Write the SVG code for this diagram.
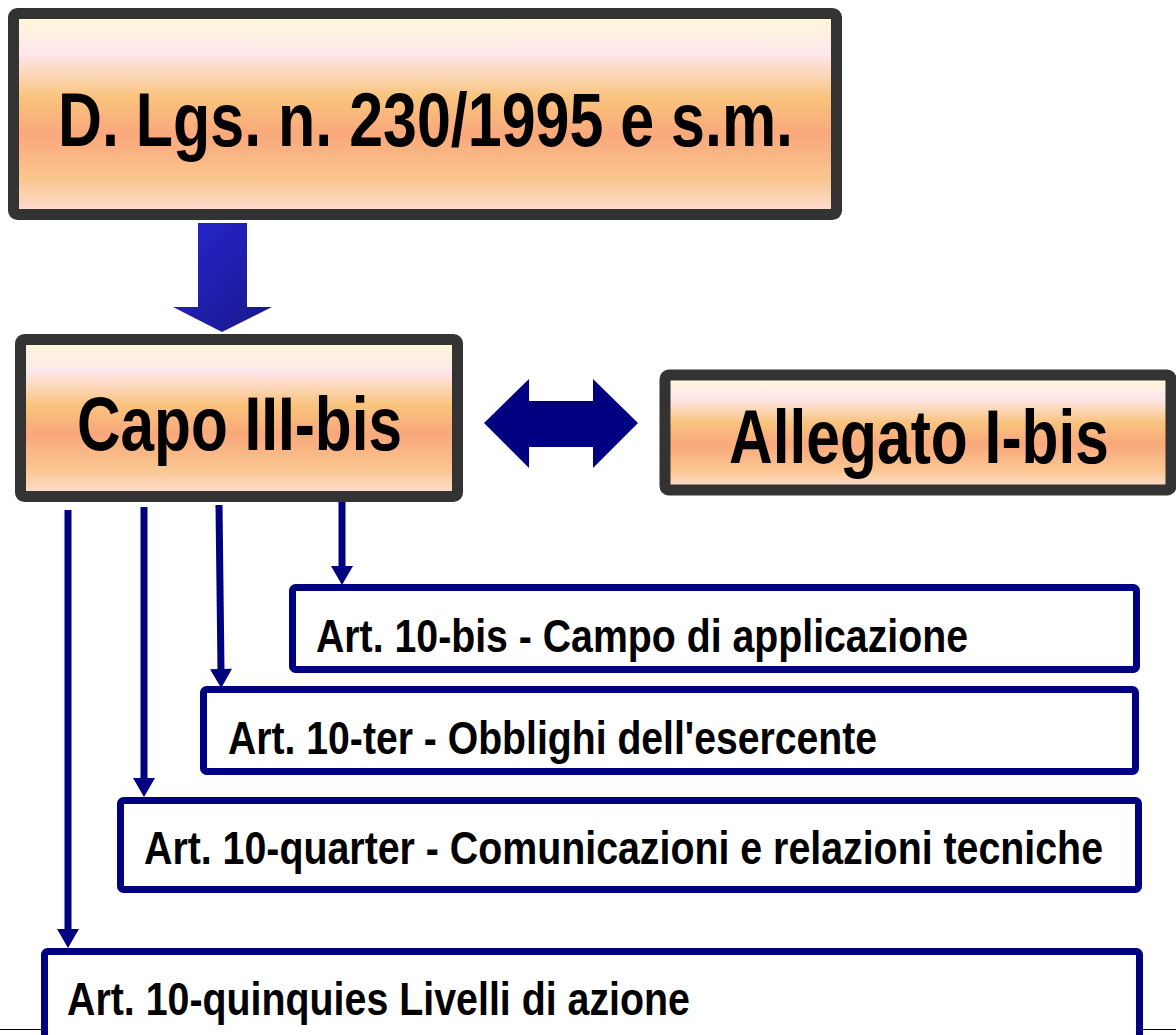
<svg xmlns="http://www.w3.org/2000/svg" width="1176" height="1035" viewBox="0 0 1176 1035">
<style>
.big{fill:url(#warm);stroke:#333333;stroke-width:11}
.art{fill:#ffffff;stroke:#000080;stroke-width:7}
.t{font-family:"Liberation Sans Narrow","Liberation Sans",Arial,sans-serif;font-weight:bold;fill:#000000}
.t1{font-size:76px}
.t2{font-size:47px}
.con{stroke:#000080;stroke-width:7;fill:none}
</style>
<defs>
<linearGradient id="warm" x1="0" y1="0" x2="0" y2="1">
<stop offset="0" stop-color="#FFF9D6"/>
<stop offset="0.2" stop-color="#FDE7EC"/>
<stop offset="0.42" stop-color="#F9C37C"/>
<stop offset="0.6" stop-color="#F9A87C"/>
<stop offset="0.82" stop-color="#FAC58E"/>
<stop offset="1" stop-color="#FCE0D6"/>
</linearGradient>
<linearGradient id="blue" x1="0" y1="0" x2="1" y2="1">
<stop offset="0" stop-color="#2626D2"/>
<stop offset="1" stop-color="#18188A"/>
</linearGradient>
<marker id="ah" markerUnits="userSpaceOnUse" markerWidth="24" markerHeight="24" viewBox="0 -12 20 24" refX="1" refY="0" orient="auto">
<path d="M0,-11 L19,0 L0,11 Z" fill="#000080"/>
</marker>
</defs>
<line x1="0" y1="1029.5" x2="1176" y2="1029.5" stroke="#000000" stroke-width="1"/>
<g id="node-dlgs">
<rect class="big" x="13.5" y="13.5" width="823" height="201" rx="4"/>
<text class="t t1" x="58" y="146" textLength="735" lengthAdjust="spacingAndGlyphs">D. Lgs. n. 230/1995 e s.m.</text>
</g>
<g id="node-capo">
<rect class="big" x="20.5" y="339.5" width="437" height="157" rx="4"/>
<text class="t t1" x="77" y="450" textLength="325" lengthAdjust="spacingAndGlyphs">Capo III-bis</text>
</g>
<g id="node-allegato">
<rect class="big" x="665" y="375" width="506" height="115" rx="4"/>
<text class="t t1" x="729" y="463" textLength="380" lengthAdjust="spacingAndGlyphs">Allegato I-bis</text>
</g>
<g id="node-art10bis">
<rect class="art" x="292.5" y="587.5" width="844" height="82" rx="3"/>
<text class="t t2" x="316" y="652" textLength="652" lengthAdjust="spacingAndGlyphs">Art. 10-bis - Campo di applicazione</text>
</g>
<g id="node-art10ter">
<rect class="art" x="203.5" y="689.5" width="932" height="82" rx="3"/>
<text class="t t2" x="228" y="754" textLength="649" lengthAdjust="spacingAndGlyphs">Art. 10-ter - Obblighi dell'esercente</text>
</g>
<g id="node-art10quarter">
<rect class="art" x="120.5" y="800.5" width="1018" height="89" rx="3"/>
<text class="t t2" x="144" y="864" textLength="959" lengthAdjust="spacingAndGlyphs">Art. 10-quarter - Comunicazioni e relazioni tecniche</text>
</g>
<g id="node-art10quinquies">
<rect class="art" x="44.5" y="951.5" width="1095" height="100" rx="3"/>
<text class="t t2" x="67" y="1015" textLength="623" lengthAdjust="spacingAndGlyphs">Art. 10-quinquies Livelli di azione</text>
</g>
<g id="connectors">
<polygon points="198,223 247,223 247,307 272,307 222,332 173,307 198,307" fill="url(#blue)"/>
<polygon points="484,423 529,379 529,401 593,401 593,379 638,423 593,468 593,447 529,447 529,468" fill="#000080"/>
<line class="con" x1="342" y1="502" x2="342" y2="567" marker-end="url(#ah)"/>
<line class="con" x1="219" y1="505" x2="221" y2="670" marker-end="url(#ah)"/>
<line class="con" x1="144" y1="507" x2="144" y2="779" marker-end="url(#ah)"/>
<line class="con" x1="68" y1="510" x2="68" y2="930" marker-end="url(#ah)"/>
</g>
</svg>
